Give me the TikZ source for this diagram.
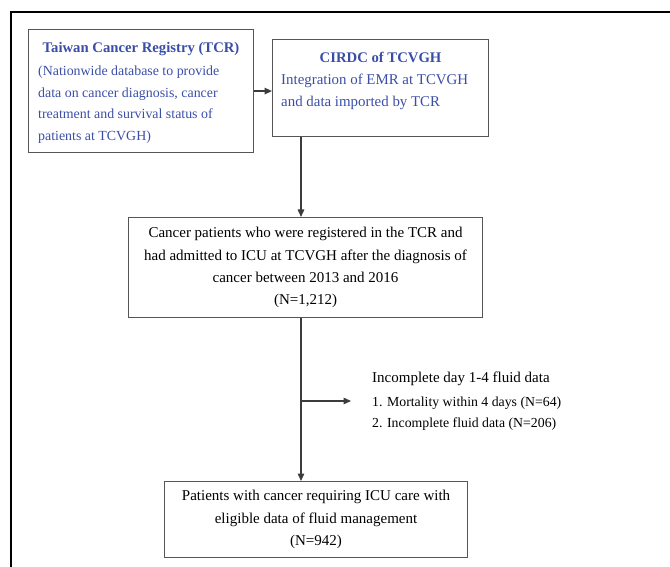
\documentclass[tikz,border=0pt]{standalone}
\usepackage{fontspec}
\setmainfont{Liberation Serif}
\usetikzlibrary{arrows.meta}
\usetikzlibrary{calc}
\usetikzlibrary{positioning}

\definecolor{regblue}{RGB}{58,78,168}
\definecolor{edgegray}{RGB}{85,85,85}
\definecolor{linegray}{RGB}{60,60,60}

\begin{document}
\begin{tikzpicture}[x=1pt, y=-1pt,
    box/.style={draw=edgegray, line width=1.1pt, rectangle, inner sep=0pt, anchor=north west},
    flow/.style={-{Triangle[length=7.5pt,width=6.5pt]}, line width=1.4pt, linegray},
    bluetitle/.style={anchor=base, inner sep=0pt, text=regblue, font=\fontsize{14.7}{22}\selectfont\bfseries},
    bluebody/.style={anchor=north west, inner sep=0pt, align=left, text=regblue, font=\fontsize{14.9}{22}\selectfont},
    maintext/.style={font=\fontsize{15}{22.3}\selectfont, align=center}]

    \useasboundingbox (0,0) rectangle (670,567);
    \clip (0,0) rectangle (670,567);

    % outer frame, cut by the page at right and bottom
    \draw[line width=2.2pt] (11,12) rectangle (700,600);

    \begin{scope}
        % registry and data centre
        \node[box, minimum width=225pt, minimum height=123pt] (tcr) at (28,29) {};
        \node[bluetitle] (tcrtitle) at (tcr.north |- 0,53) {Taiwan Cancer Registry (TCR)};
        \node[bluebody, font=\fontsize{13.9}{21.8}\selectfont] (tcrbody) at (38,65.5)
            {(Nationwide database to provide\\
             data on cancer diagnosis, cancer\\
             treatment and survival status of\\
             patients at TCVGH)};

        \node[box, minimum width=216pt, minimum height=97pt] (cirdc) at (272,39) {};
        \node[bluetitle] (cirdctitle) at (cirdc.north |- 0,63) {CIRDC of TCVGH};
        \node[bluebody] (cirdcbody) at (281,73.5)
            {Integration of EMR at TCVGH\\
             and data imported by TCR};

        \draw[flow] (tcr.east) -- (tcr.east -| cirdc.west);
    \end{scope}

    \begin{scope}
        \coordinate (spine) at (301,0);
        \coordinate (exitend) at (351,401);

        \node[box, maintext, minimum width=354pt, minimum height=100pt] (cohort) at (128,217)
            {Cancer patients who were registered in the TCR and\\
             had admitted to ICU at TCVGH after the diagnosis of\\
             cancer between 2013 and 2016\\
             (N=1,212)};

        \node[box, maintext, minimum width=303pt, minimum height=76pt] (final) at (164,481)
            {Patients with cancer requiring ICU care with\\
             eligible data of fluid management\\
             (N=942)};

        \node[right=21pt of exitend, inner sep=0pt, align=left,
              font=\fontsize{13.8}{20.5}\selectfont] (exclude)
            {{\fontsize{15}{15}\selectfont Incomplete day 1-4 fluid data}\\[3.5pt]
             1. Mortality within 4 days (N=64)\\
             2. Incomplete fluid data (N=206)};

        \draw[flow] (cirdc.south -| spine) -- (cohort.north -| spine);
        \draw[flow] (cohort.south -| spine) -- (final.north -| spine);
        \draw[flow] (exitend -| spine) -- (exitend);
    \end{scope}
\end{tikzpicture}
\end{document}
